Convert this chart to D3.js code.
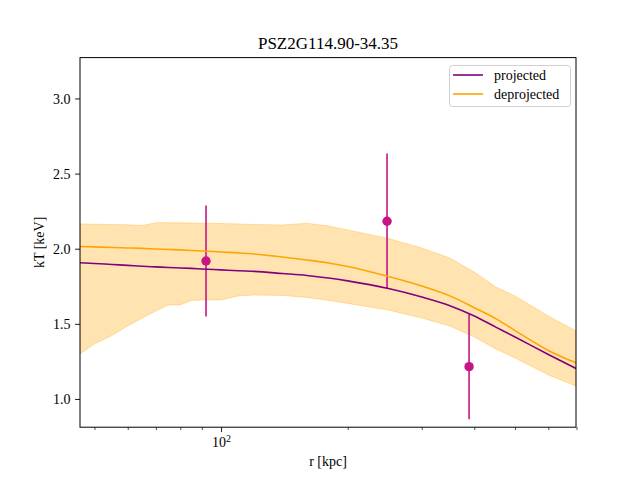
<!DOCTYPE html>
<html>
<head>
<meta charset="utf-8">
<script src="https://cdn.jsdelivr.net/npm/d3@7"></script>
<style>
  body { margin: 0; background: white; }
</style>
</head>
<body>
<div id="chart"></div>
<script>
// radius grid of the model curves (kpc)
const radii = [46.2, 50, 55, 60, 65, 70, 75, 80, 85, 90, 100, 110, 120, 140, 160, 180, 200, 250, 300, 350, 400, 450, 500, 600, 698];
const projected = [1.907, 1.902, 1.895, 1.889, 1.883, 1.879, 1.875, 1.872, 1.869, 1.865, 1.859, 1.853, 1.849, 1.835, 1.822, 1.805, 1.786, 1.735, 1.679, 1.621, 1.552, 1.478, 1.412, 1.296, 1.203];
const deprojected = [2.015, 2.012, 2.008, 2.005, 2.002, 1.998, 1.995, 1.992, 1.988, 1.985, 1.978, 1.972, 1.965, 1.945, 1.925, 1.905, 1.882, 1.815, 1.752, 1.686, 1.607, 1.535, 1.455, 1.323, 1.240];
const bandHigh = [2.165, 2.163, 2.161, 2.159, 2.155, 2.173, 2.173, 2.172, 2.171, 2.170, 2.168, 2.165, 2.161, 2.158, 2.169, 2.151, 2.125, 2.068, 2.005, 1.938, 1.845, 1.745, 1.686, 1.552, 1.453];
const bandLow = [1.300, 1.366, 1.423, 1.486, 1.539, 1.586, 1.626, 1.626, 1.656, 1.659, 1.659, 1.686, 1.692, 1.689, 1.676, 1.656, 1.636, 1.592, 1.539, 1.486, 1.413, 1.333, 1.273, 1.160, 1.087];

// measured temperatures
const obsR = [92.1, 248.1, 388.7];
const obsT = [1.918, 2.183, 1.215];
const obsErr = [0.37, 0.45, 0.35];

const yTicks = [1.0, 1.5, 2.0, 2.5, 3.0];
const xMajor = [100];
const xMinor = [50, 60, 70, 80, 90, 200, 300, 400, 500, 600, 700];

const FONT = "'Liberation Serif', 'DejaVu Serif', serif";
const W = 640, H = 480;
const ax = { left: 80, right: 576, top: 57.6, bottom: 427.2 };

const svg = d3.select("#chart").append("svg")
  .attr("width", W).attr("height", H)
  .style("font-family", FONT);

const x = d3.scaleLog().domain([46.2, 698]).range([ax.left, ax.right]);
const y = d3.scaleLinear().domain([0.812, 3.272]).range([ax.bottom, ax.top]);

svg.append("clipPath").attr("id", "clip")
  .append("rect").attr("x", ax.left).attr("y", ax.top)
  .attr("width", ax.right - ax.left).attr("height", ax.bottom - ax.top);

const plot = svg.append("g").attr("clip-path", "url(#clip)");

const rows = radii.map((r, i) => ({ r, p: projected[i], d: deprojected[i], lo: bandLow[i], hi: bandHigh[i] }));

// uncertainty band
plot.append("path")
  .datum(rows)
  .attr("d", d3.area().x(d => x(d.r)).y0(d => y(d.lo)).y1(d => y(d.hi)))
  .attr("fill", "orange")
  .attr("fill-opacity", 0.3)
  .attr("stroke", "orange")
  .attr("stroke-opacity", 0.3)
  .attr("stroke-width", 1);

// error bars
const pts = obsR.map((r, i) => ({ r, t: obsT[i], e: obsErr[i] }));
plot.selectAll(".err").data(pts).enter().append("line")
  .attr("x1", d => x(d.r)).attr("x2", d => x(d.r))
  .attr("y1", d => y(d.t - d.e)).attr("y2", d => y(d.t + d.e))
  .attr("stroke", "mediumvioletred").attr("stroke-width", 1.6);

// model lines
plot.append("path").datum(rows)
  .attr("d", d3.line().x(d => x(d.r)).y(d => y(d.p)).curve(d3.curveMonotoneX))
  .attr("fill", "none").attr("stroke", "purple").attr("stroke-width", 1.6);

plot.append("path").datum(rows)
  .attr("d", d3.line().x(d => x(d.r)).y(d => y(d.d)).curve(d3.curveMonotoneX))
  .attr("fill", "none").attr("stroke", "orange").attr("stroke-width", 1.6);

plot.selectAll(".dot").data(pts).enter().append("circle")
  .attr("cx", d => x(d.r)).attr("cy", d => y(d.t)).attr("r", 4.7)
  .attr("fill", "mediumvioletred");

// frame
svg.append("rect")
  .attr("x", ax.left).attr("y", ax.top)
  .attr("width", ax.right - ax.left).attr("height", ax.bottom - ax.top)
  .attr("fill", "none").attr("stroke", "black").attr("stroke-width", 1);

// axes
const xAxis = svg.append("g")
  .attr("transform", `translate(0,${ax.bottom})`)
  .call(d3.axisBottom(x).tickValues(xMajor).tickSize(4.9).tickFormat(""));
xAxis.select(".domain").remove();
xAxis.selectAll("line").attr("stroke-width", 0.9);
xAxis.selectAll(".tick text").remove();
xAxis.selectAll(".tick").append("text")
  .attr("y", 20)
  .attr("text-anchor", "middle")
  .attr("fill", "black")
  .style("font-family", FONT)
  .style("font-size", "14px")
  .html(d => `10<tspan dy="-5" font-size="10px">${Math.round(Math.log10(d))}</tspan>`);

const xMinorAxis = svg.append("g")
  .attr("transform", `translate(0,${ax.bottom})`)
  .call(d3.axisBottom(x).tickValues(xMinor).tickSize(2.8).tickFormat(""));
xMinorAxis.select(".domain").remove();
xMinorAxis.selectAll("line").attr("stroke-width", 0.7);

const yAxis = svg.append("g")
  .attr("transform", `translate(${ax.left},0)`)
  .call(d3.axisLeft(y).tickValues(yTicks).tickSize(4.9).tickPadding(4.5).tickFormat(d3.format(".1f")));
yAxis.attr("font-family", null);
yAxis.select(".domain").remove();
yAxis.selectAll("line").attr("stroke-width", 0.9);
yAxis.selectAll("text")
  .style("font-family", FONT)
  .style("font-size", "14px")
  .attr("dy", "0.35em");

svg.append("text")
  .attr("x", (ax.left + ax.right) / 2).attr("y", 466)
  .attr("text-anchor", "middle")
  .style("font-family", FONT)
  .style("font-size", "14px")
  .text("r [kpc]");

svg.append("text")
  .attr("transform", `translate(44,${(ax.top + ax.bottom) / 2}) rotate(-90)`)
  .attr("text-anchor", "middle")
  .style("font-family", FONT)
  .style("font-size", "14px")
  .text("kT [keV]");

svg.append("text")
  .attr("x", (ax.left + ax.right) / 2).attr("y", 49)
  .attr("text-anchor", "middle")
  .attr("font-size", 17)
  .style("font-family", FONT)
  .style("font-size", "17px")
  .text("PSZ2G114.90-34.35");

// legend
const legendData = [
  { color: "purple", label: "projected" },
  { color: "orange", label: "deprojected" }
];
const legend = svg.append("g").attr("transform", "translate(449.5,65.5)");
legend.append("rect")
  .attr("width", 121).attr("height", 41)
  .attr("rx", 3)
  .attr("fill", "white").attr("fill-opacity", 0.8)
  .attr("stroke", "#d0d0d0").attr("stroke-width", 1);
legend.selectAll("line").data(legendData).enter().append("line")
  .attr("x1", 3.5).attr("x2", 33.5)
  .attr("y1", (d, i) => 9.5 + i * 19).attr("y2", (d, i) => 9.5 + i * 19)
  .attr("stroke", d => d.color).attr("stroke-width", 1.6);
legend.selectAll("text").data(legendData).enter().append("text")
  .attr("x", 44.5)
  .attr("y", (d, i) => 14 + i * 19)
  .style("font-family", FONT)
  .style("font-size", "14px")
  .text(d => d.label);
</script>
</body>
</html>
